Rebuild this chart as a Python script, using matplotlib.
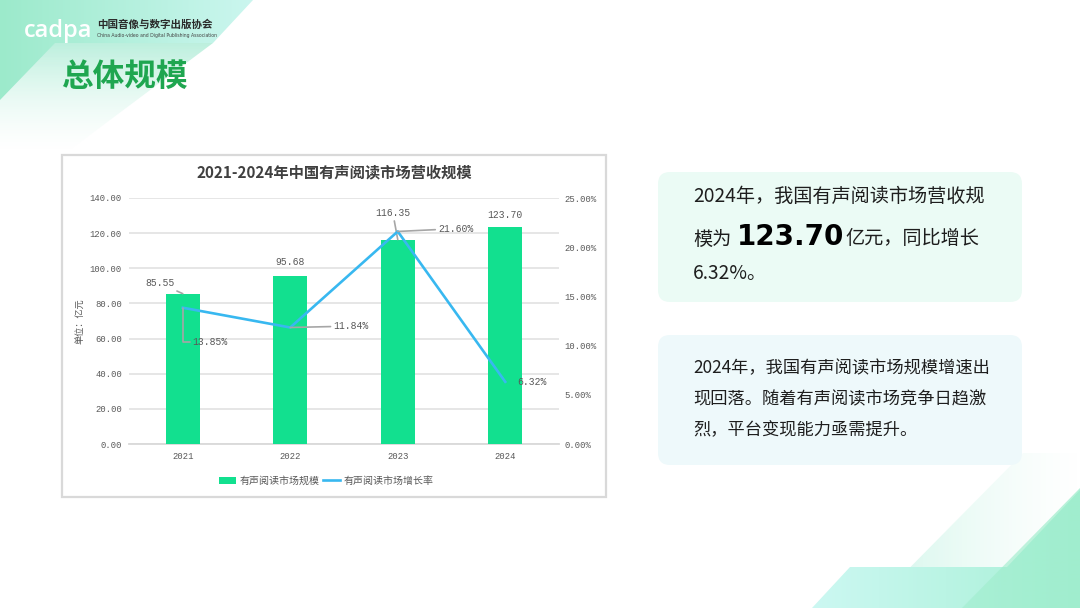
import matplotlib
matplotlib.use("Agg")
import matplotlib.pyplot as plt
import numpy as np
from matplotlib.colors import to_rgba
from matplotlib.patches import Polygon, Rectangle, FancyBboxPatch
from matplotlib.lines import Line2D

plt.rcParams["font.family"] = ["Noto Sans CJK SC", "DejaVu Sans"]

# ---- data ----
years = ["2021", "2022", "2023", "2024"]
market_size = [85.55, 95.68, 116.35, 123.70]      # 亿元
growth_rate = [13.85, 11.84, 21.60, 6.32]          # %
left_ticks = [0, 20, 40, 60, 80, 100, 120, 140]
right_ticks = [0, 5, 10, 15, 20, 25]

chart_title = "2021-2024年中国有声阅读市场营收规模"
bar_name = "有声阅读市场规模"
line_name = "有声阅读市场增长率"

BAR_C = "#12E08F"
LINE_C = "#38B8F0"
TXT_C = "#595959"
LEAD_C = "#A6A6A6"
NUM_FONT = ["Liberation Mono", "DejaVu Sans Mono"]

fig = plt.figure(figsize=(10.8, 6.08), dpi=100)

# background layer in pixel coordinates
bg = fig.add_axes([0, 0, 1, 1])
bg.axis("off")


def grad_poly(ax, verts, c0, c1, vertical=False, z=1):
    poly = Polygon(verts, closed=True, facecolor="none", edgecolor="none")
    ax.add_patch(poly)
    xs = [v[0] for v in verts]
    ys = [v[1] for v in verts]
    t = np.linspace(0, 1, 256)[:, None]
    cols = np.array(to_rgba(c0)) * (1 - t) + np.array(to_rgba(c1)) * t
    arr = cols[:, None, :] if vertical else cols[None, :, :]
    im = ax.imshow(arr, extent=(min(xs), max(xs), max(ys), min(ys)),
                   aspect="auto", zorder=z, interpolation="bilinear")
    im.set_clip_path(poly)


# top-left decoration
grad_poly(bg, [(0, 43), (213, 43), (70, 150), (0, 150)],
          (0.74, 0.94, 0.87, 1.0), (0.90, 0.98, 0.95, 0.0), vertical=True)
grad_poly(bg, [(0, 0), (253, 0), (213, 43), (55, 43), (0, 100)],
          "#9CEACB", "#CBF6EF")

# bottom-right decoration
grad_poly(bg, [(870, 608), (1023, 453), (1078, 453), (1078, 608)],
          (0.80, 0.96, 0.91, 0.9), (0.90, 0.98, 0.95, 0.0))
grad_poly(bg, [(812, 608), (850, 567), (1007, 567), (1080, 490), (1080, 608)],
          "#CCF8F2", "#A8F0D6")
grad_poly(bg, [(962, 608), (1080, 488), (1080, 608)],
          (0.62, 0.93, 0.80, 0.55), (0.62, 0.93, 0.80, 0.75))

bg.set_xlim(0, 1080)
bg.set_ylim(608, 0)

# header
bg.text(24, 31, "cadpa", color="white", fontsize=17, fontweight="semibold",
        family=["Open Sans", "DejaVu Sans"], va="center", ha="left", zorder=5)
bg.text(97, 25, "中国音像与数字出版协会", color="#2B2B2B", fontsize=7.6,
        fontweight="bold", va="center", ha="left", zorder=5)
bg.text(97, 36, "China Audio-video and Digital Publishing Association",
        color="#444444", fontsize=3.3, va="center", ha="left",
        family=["DejaVu Sans"], zorder=5)
bg.text(61, 77, "总体规模", color="#1FA650", fontsize=22.8, fontweight="bold",
        va="center", ha="left", zorder=5)

# chart frame
bg.add_patch(Rectangle((62, 155), 544, 342, facecolor="white",
                       edgecolor="#D9D9D9", linewidth=1.6, zorder=3))
bg.text(334, 172, chart_title, color="#404040", fontsize=11,
        fontweight="bold", ha="center", va="center", zorder=5)
bg.text(81, 321, "单位：亿元", color=TXT_C, fontsize=6.6, rotation=90,
        ha="center", va="center", zorder=5)

# right text boxes
bg.add_patch(FancyBboxPatch((658, 172), 364, 130,
                            boxstyle="round,pad=0,rounding_size=12",
                            facecolor="#EBFBF5", edgecolor="none", zorder=3))
bg.add_patch(FancyBboxPatch((658, 335), 364, 130,
                            boxstyle="round,pad=0,rounding_size=12",
                            facecolor="#EEF9FB", edgecolor="none", zorder=3))

tc = "#1E1E1E"
bg.text(693, 196, "2024年，我国有声阅读市场营收规", color=tc, fontsize=13.8,
        ha="left", va="center", zorder=5)
bg.text(693, 239, "模为", color=tc, fontsize=13.8, ha="left", va="center",
        zorder=5)
bg.text(737, 237, "123.70", color="black", fontsize=20, fontweight="bold",
        family=["DejaVu Sans"], ha="left", va="center", zorder=5)
bg.text(845, 239, "亿元，同比增长", color=tc, fontsize=13.8, ha="left",
        va="center", zorder=5)
bg.text(693, 273, "6.32%。", color=tc, fontsize=13.8, ha="left", va="center",
        zorder=5)

para = ["2024年，我国有声阅读市场规模增速出",
        "现回落。随着有声阅读市场竞争日趋激",
        "烈，平台变现能力亟需提升。"]
for i, line in enumerate(para):
    bg.text(693, 368 + 31 * i, line, color=tc, fontsize=12.4, ha="left",
            va="center", zorder=5)

# ---- chart ----
ax = fig.add_axes([129 / 1080, 1 - 444 / 608, 430 / 1080, 246 / 608])
ax.patch.set_alpha(0)
ax2 = ax.twinx()

x = np.arange(len(years))
ax.bar(x, market_size, width=0.32, color=BAR_C, zorder=3)
ax.set_xlim(-0.5, len(years) - 0.5)
ax.set_ylim(0, 140)
ax.set_yticks(left_ticks)
ax.set_yticklabels([f"{v:.2f}" for v in left_ticks], family=NUM_FONT,
                   fontsize=6.4, color=TXT_C)
ax.set_xticks(x)
ax.set_xticklabels(years, family=NUM_FONT, fontsize=6.4, color=TXT_C)
ax.tick_params(axis="both", length=0)
ax.tick_params(axis="y", pad=5)
ax.tick_params(axis="x", pad=6)
ax.yaxis.grid(True, color="#E4E4E4", linewidth=1.3, zorder=0)
ax.set_axisbelow(True)
for s in ["top", "right", "left"]:
    ax.spines[s].set_visible(False)
ax.spines["bottom"].set_color("#D9D9D9")
ax.spines["bottom"].set_linewidth(1.3)

ax2.plot(x, growth_rate, color=LINE_C, linewidth=1.9, zorder=4)
ax2.set_ylim(0, 25)
ax2.set_yticks(right_ticks)
ax2.set_yticklabels([f"{v:.2f}%" for v in right_ticks], family=NUM_FONT,
                    fontsize=6.4, color=TXT_C)
ax2.tick_params(axis="y", length=0, pad=4)
for s in ax2.spines.values():
    s.set_visible(False)

lab = dict(family=NUM_FONT, fontsize=7, color=TXT_C)


def leader(style="arc3"):
    return dict(arrowstyle="-", color=LEAD_C, lw=1.2, shrinkA=0, shrinkB=0,
                connectionstyle=style)


# bar labels (offsets in points)
bar_off = [(-16.5, 7.5), (0, 10), (-3.5, 19), (0, 8.5)]
bar_lead = [True, False, True, False]
for i, v in enumerate(market_size):
    ax.annotate(f"{v:.2f}", xy=(i, v), xytext=bar_off[i],
                textcoords="offset points", ha="center", va="center",
                arrowprops=leader() if bar_lead[i] else None, zorder=6, **lab)

# growth labels
line_off = [(7, -25), (31, 1), (29, 2), (9, 0)]
line_style = ["angle,angleA=0,angleB=90,rad=0", "arc3", "arc3", None]
for i, v in enumerate(growth_rate):
    ax2.annotate(f"{v:.2f}%", xy=(i, v), xytext=line_off[i],
                 textcoords="offset points", ha="left", va="center",
                 arrowprops=leader(line_style[i]) if line_style[i] else None,
                 zorder=6, **lab)

handles = [Rectangle((0, 0), 1, 1, facecolor=BAR_C),
           Line2D([0], [0], color=LINE_C, linewidth=1.9)]
fig.legend(handles, [bar_name, line_name], loc="center",
           bbox_to_anchor=(326 / 1080, 1 - 481 / 608), ncol=2, frameon=False,
           fontsize=7.2, labelcolor=TXT_C, handlelength=1.7, handleheight=0.8,
           columnspacing=0.3, handletextpad=0.4)

fig.savefig("out.png", dpi=100)
